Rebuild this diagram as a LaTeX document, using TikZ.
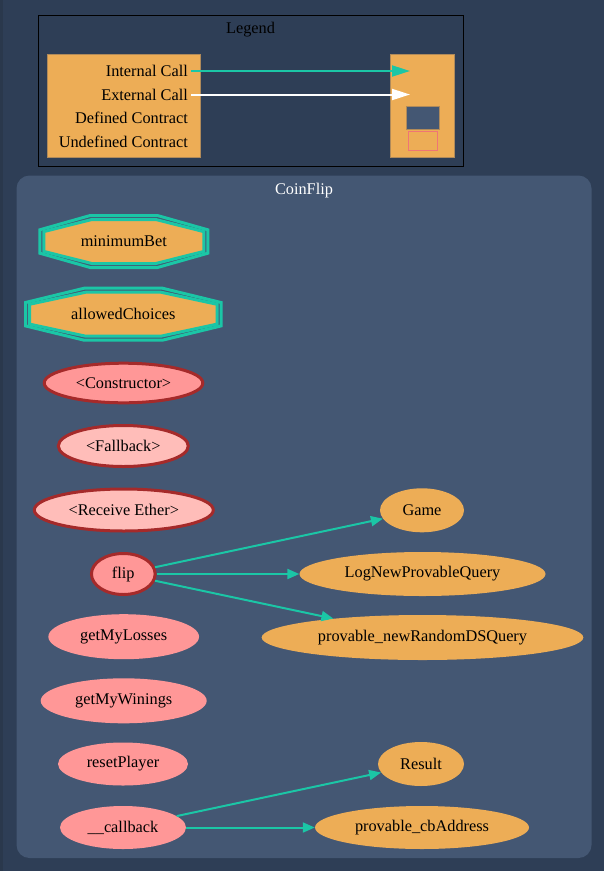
\documentclass[tikz,border=0pt]{standalone}
\usepackage{fontspec}
\setmainfont{Liberation Serif}
\usetikzlibrary{arrows.meta,shapes.geometric}
\definecolor{bgcol}{HTML}{2E3E56}
\definecolor{edgecol}{HTML}{2A384C}
\definecolor{clustercol}{HTML}{445773}
\definecolor{orangec}{HTML}{EDAD56}
\definecolor{orangeline}{HTML}{B08A5A}
\definecolor{tealc}{HTML}{1BC6A6}
\definecolor{pinkc}{HTML}{FF9797}
\definecolor{lightpinkc}{HTML}{FFBDB9}
\definecolor{brownc}{HTML}{A52A2A}
\definecolor{undefline}{HTML}{EF7575}
\newcommand{\drawocta}[4]{%
  % #1 cx, #2 cy, #3 half width (outer path), #4 half height (outer path)
  \fill[orangec] ({#1-0.4*(#3-4)},{#2-(#4-4)}) -- ({#1+0.4*(#3-4)},{#2-(#4-4)}) -- ({#1+(#3-4)},{#2-0.45*(#4-4)}) -- ({#1+(#3-4)},{#2+0.45*(#4-4)}) -- ({#1+0.4*(#3-4)},{#2+(#4-4)}) -- ({#1-0.4*(#3-4)},{#2+(#4-4)}) -- ({#1-(#3-4)},{#2+0.45*(#4-4)}) -- ({#1-(#3-4)},{#2-0.45*(#4-4)}) -- cycle;
  \draw[tealc, line width=3pt, line join=miter] ({#1-0.4*#3},{#2-#4}) -- ({#1+0.4*#3},{#2-#4}) -- ({#1+#3},{#2-0.45*#4}) -- ({#1+#3},{#2+0.45*#4}) -- ({#1+0.4*#3},{#2+#4}) -- ({#1-0.4*#3},{#2+#4}) -- ({#1-#3},{#2+0.45*#4}) -- ({#1-#3},{#2-0.45*#4}) -- cycle;
  \draw[tealc, line width=3pt, line join=miter] ({#1-0.4*(#3-4)},{#2-(#4-4)}) -- ({#1+0.4*(#3-4)},{#2-(#4-4)}) -- ({#1+(#3-4)},{#2-0.45*(#4-4)}) -- ({#1+(#3-4)},{#2+0.45*(#4-4)}) -- ({#1+0.4*(#3-4)},{#2+(#4-4)}) -- ({#1-0.4*(#3-4)},{#2+(#4-4)}) -- ({#1-(#3-4)},{#2+0.45*(#4-4)}) -- ({#1-(#3-4)},{#2-0.45*(#4-4)}) -- cycle;
}
\tikzset{
  lbl/.style={font=\fontsize{16.3}{19}\selectfont, text=black, inner sep=0pt},
  fn/.style={ellipse, inner sep=0pt, font=\fontsize{16.3}{19}\selectfont, text=black},
  special/.style={fn, draw=brownc, line width=3pt},
  pub/.style={fn, fill=pinkc},
  ext/.style={fn, fill=orangec},
  call/.style={draw=tealc, line width=2pt, -{Triangle[length=12pt,width=10pt]}},
}
\begin{document}
\begin{tikzpicture}[x=1pt,y=-1pt]
\useasboundingbox (0,0) rectangle (604,871);
\fill[bgcol] (0,0) rectangle (604,871);
\fill[edgecol] (0,0) rectangle (3,871);

% Legend
\draw[black, line width=1pt] (38,15) rectangle (463,166);
\node[lbl] (legendtitle) at (250.5,30) {Legend};
\filldraw[fill=orangec, draw=orangeline, line width=0.6pt] (47.3,54) rectangle (200.3,157.3);
\filldraw[fill=orangec, draw=orangeline, line width=0.6pt] (390.7,54) rectangle (454.3,157.3);
\node[lbl, anchor=east] (lint) at (188,71) {Internal Call};
\node[lbl, anchor=east] (lext) at (188,94.5) {External Call};
\node[lbl, anchor=east] (ldef) at (188,118) {Defined Contract};
\node[lbl, anchor=east] (lundef) at (188,141.5) {Undefined Contract};
\coordinate (tint) at (410,71);
\coordinate (text) at (410,94.5);
\draw[tealc, line width=2pt, -{Triangle[length=18pt,width=11pt]}] ([xshift=3pt]lint.east) -- (tint);
\draw[white, line width=2pt, -{Triangle[length=18pt,width=11pt]}] ([xshift=3pt]lext.east) -- (text);
\filldraw[fill=clustercol, draw=orangeline, line width=0.4pt] (406,106) rectangle (439,129);
\draw[undefline, line width=1pt] (408,131) rectangle (437,150);

% Cluster
\fill[clustercol, rounded corners=13pt] (16.5,175.5) rectangle (591.5,858);
\node[lbl, text=white] (clustertitle) at (304,191) {CoinFlip};

% State variables
\drawocta{123.8}{241.5}{84}{26}
\node[lbl] (minbet) at (123.8,241.5) {minimumBet};
\drawocta{123.3}{314.2}{97.8}{26}
\node[lbl] (allowed) at (123.3,314.2) {allowedChoices};

% Functions
\node[special, fill=pinkc, minimum width=158.6pt, minimum height=39.6pt] (ctor) at (123.5,383) {\textless Constructor\textgreater};
\node[special, fill=lightpinkc, minimum width=130pt, minimum height=41pt] (fallback) at (123.3,446) {\textless Fallback\textgreater};
\node[special, fill=lightpinkc, minimum width=179pt, minimum height=42pt] (receive) at (123.8,510) {\textless Receive Ether\textgreater};
\node[special, fill=pinkc, minimum width=63.7pt, minimum height=41pt] (flip) at (123.3,574) {flip};
\node[pub, minimum width=150.7pt, minimum height=45pt] (losses) at (123.7,636.7) {getMyLosses};
\node[pub, minimum width=166pt, minimum height=45pt] (winings) at (123.7,700.8) {getMyWinings};
\node[pub, minimum width=130pt, minimum height=43pt] (reset) at (123,764) {resetPlayer};
\node[pub, minimum width=126pt, minimum height=43pt] (callback) at (123,827.5) {\_\_callback};

% External / events
\node[ext, minimum width=84pt, minimum height=44pt] (game) at (422,510.3) {Game};
\node[ext, minimum width=246pt, minimum height=44pt] (lognew) at (422.5,574) {LogNewProvableQuery};
\node[ext, minimum width=321.7pt, minimum height=45pt] (dsquery) at (422.5,637.5) {provable\_newRandomDSQuery};
\node[ext, minimum width=86pt, minimum height=44pt] (result) at (421,764) {Result};
\node[ext, minimum width=214pt, minimum height=43pt] (cbaddr) at (422,827.5) {provable\_cbAddress};

% Calls
\draw[call] (flip) -- (game);
\draw[call] (flip) -- (lognew);
\draw[call] (flip) -- (dsquery);
\draw[call] (callback) -- (result);
\draw[call] (callback) -- (cbaddr);
\end{tikzpicture}
\end{document}
